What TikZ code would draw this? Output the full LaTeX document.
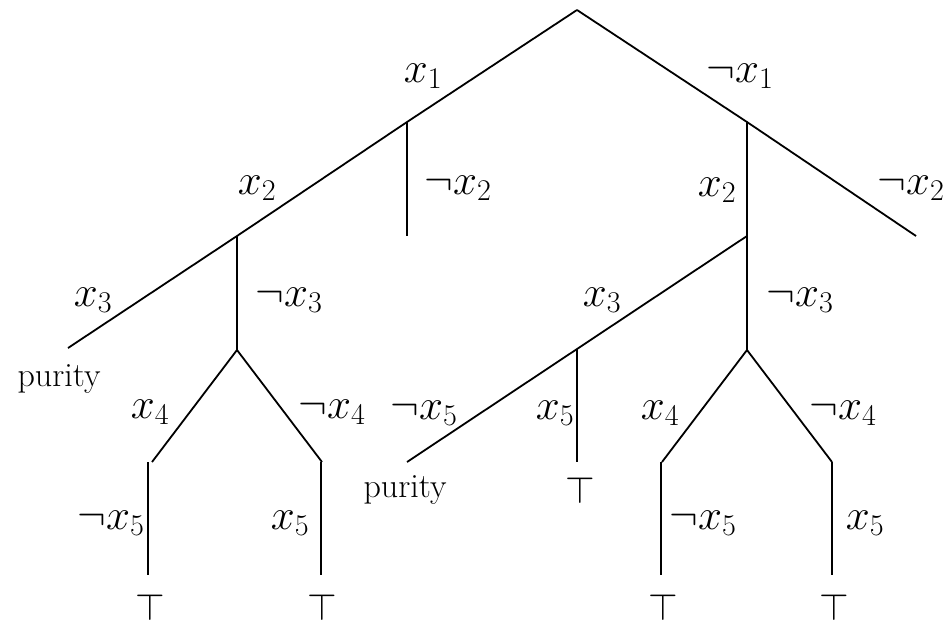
\RequirePackage{fix-cm}
\documentclass[tikz,border=0pt]{standalone}
\begin{document}
\begin{tikzpicture}[x=1pt,y=-1pt,
  edge/.style={line width=1.8pt},
  vedge/.style={line width=2.6pt},
  lab/.style={inner sep=0pt,font=\fontsize{43}{50}\selectfont},
  topl/.style={inner sep=0pt,font=\fontsize{38}{44}\selectfont},
  txt/.style={inner sep=0pt,font=\fontsize{34}{40}\selectfont}]
\useasboundingbox (0,0) rectangle (949,621);
% tree points
\coordinate (r) at (577,10);
\coordinate (a) at (407,122);
\coordinate (b) at (237,236);
\coordinate (c) at (68,348);
\coordinate (a2) at (407,236);
\coordinate (b2) at (237,350);
\coordinate (d1) at (152,462);
\coordinate (d1v) at (148,462);
\coordinate (e1) at (148,575);
\coordinate (d2) at (322,462);
\coordinate (d2v) at (321,462);
\coordinate (e2) at (321,575);
\coordinate (p) at (747,122);
\coordinate (q) at (916,236);
\coordinate (s) at (747,236);
\coordinate (t) at (577,349);
\coordinate (u) at (407,462);
\coordinate (t2) at (577,462);
\coordinate (s2) at (747,350);
\coordinate (f1) at (662,462);
\coordinate (f1v) at (661,462);
\coordinate (g1) at (661,575);
\coordinate (f2) at (832,462);
\coordinate (f2v) at (832,462);
\coordinate (g2) at (832,575);
% edges
\draw[edge] (r) -- (a) -- (b) -- (c);
\draw[edge] (r) -- (p) -- (q);
\draw[vedge] (a) -- (a2);
\draw[vedge] (b) -- (b2);
\draw[edge] (b2) -- (d1);
\draw[edge] (b2) -- (d2);
\draw[vedge] (d1v) -- (e1);
\draw[vedge] (d2v) -- (e2);
\draw[vedge] (p) -- (s) -- (s2);
\draw[edge] (s) -- (t) -- (u);
\draw[vedge] (t) -- (t2);
\draw[edge] (s2) -- (f1);
\draw[edge] (s2) -- (f2);
\draw[vedge] (f1v) -- (g1);
\draw[vedge] (f2v) -- (g2);
% labels
\node[lab] (l1) at (423,76) {$x_1$};
\node[lab] (l2) at (740,76) {$\neg x_1$};
\node[lab] (l3) at (257,188) {$x_2$};
\node[lab] (l4) at (458,188) {$\neg x_2$};
\node[lab] (l5) at (717,190) {$x_2$};
\node[lab] (l6) at (911,188) {$\neg x_2$};
\node[lab] (l7) at (93,300) {$x_3$};
\node[lab] (l8) at (289,300) {$\neg x_3$};
\node[lab] (l9) at (602,300) {$x_3$};
\node[lab] (l10) at (800,300) {$\neg x_3$};
\node[lab] (l11) at (150,412) {$x_4$};
\node[lab] (l12) at (332,412) {$\neg x_4$};
\node[lab] (l13) at (424,413) {$\neg x_5$};
\node[lab] (l14) at (555,413) {$x_5$};
\node[lab] (l15) at (660,413) {$x_4$};
\node[lab] (l16) at (843,413) {$\neg x_4$};
\node[lab] (l17) at (111,523) {$\neg x_5$};
\node[lab] (l18) at (290,523) {$x_5$};
\node[lab] (l19) at (703,523) {$\neg x_5$};
\node[lab] (l20) at (865,523) {$x_5$};
\node[txt] (pu1) at (59,379) {purity};
\node[txt] (pu2) at (405,490) {purity};
\node[topl] (t1) at (150,607) {$\top$};
\node[topl] (t2n) at (322,607) {$\top$};
\node[topl] (t3) at (580,490) {$\top$};
\node[topl] (t4) at (663,607) {$\top$};
\node[topl] (t5) at (834,607) {$\top$};
\end{tikzpicture}
\end{document}
